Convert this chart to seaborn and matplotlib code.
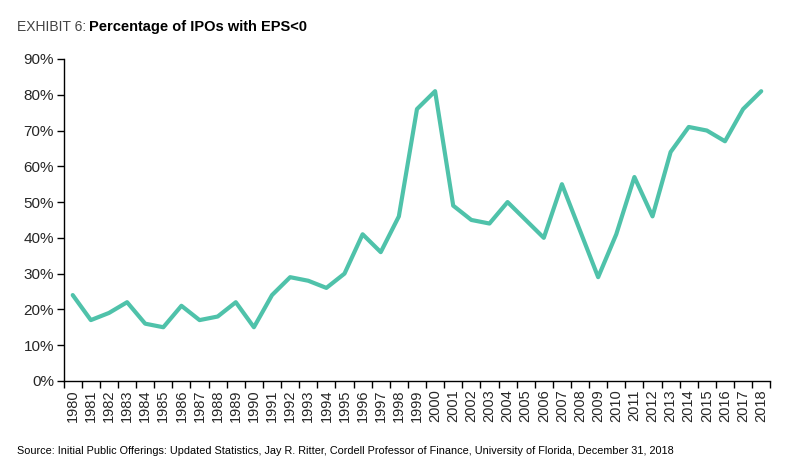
import numpy as np
import pandas as pd
import matplotlib.pyplot as plt
import matplotlib.ticker as mticker
import seaborn as sns

# số liệu
years = list(range(1980, 2019))
pct_neg_eps = [24, 17, 19, 22, 16, 15, 21, 17, 18, 22,
               15, 24, 29, 28, 26, 30, 41, 36, 46, 76,
               81, 49, 45, 44, 50, 45, 40, 55, 42, 29,
               41, 57, 46, 64, 71, 70, 67, 76, 81]

df = pd.DataFrame({'year': years, 'pct': pct_neg_eps})

sns.set_style('ticks')
plt.rcParams['font.family'] = ['Liberation Sans', 'DejaVu Sans']

fig = plt.figure(figsize=(7.86, 4.72), dpi=100)
ax = fig.add_axes([0.081, 0.193, 0.899, 0.682])

sns.lineplot(data=df, x='year', y='pct', color='#4fc2aa', linewidth=3, ax=ax)

ax.set_xlim(years[0] - 0.5, years[-1] + 0.5)
ax.set_ylim(0, 90)
ax.set_yticks(range(0, 91, 10))
ax.yaxis.set_major_formatter(mticker.FuncFormatter(lambda v, p: f'{int(v)}%'))

# vạch chia ở ranh giới giữa các năm, nhãn ở giữa
ax.set_xticks(np.arange(years[0] - 0.5, years[-1] + 1, 1))
ax.set_xticklabels([])
ax.set_xticks(years, minor=True)
ax.set_xticklabels([str(y) for y in years], minor=True, rotation=90)
ax.tick_params(axis='x', which='minor', length=0, labelsize=10.5, pad=6)
ax.tick_params(axis='x', which='major', length=5, width=1, color='black')
ax.tick_params(axis='y', length=5, width=1, color='black', labelsize=11, pad=2)

for s in ['top', 'right']:
    ax.spines[s].set_visible(False)
for s in ['left', 'bottom']:
    ax.spines[s].set_color('black')
    ax.spines[s].set_linewidth(1)

ax.set_xlabel('')
ax.set_ylabel('')

fig.text(0.022, 0.942, 'EXHIBIT 6:', fontsize=10, color='#444444', va='center')
fig.text(0.113, 0.942, 'Percentage of IPOs with EPS<0', fontsize=10.5, fontweight='bold',
         color='black', va='center')
fig.text(0.022, 0.045, 'Source: Initial Public Offerings: Updated Statistics, Jay R. Ritter, '
         'Cordell Professor of Finance, University of Florida, December 31, 2018',
         fontsize=7.8, color='black', va='center')

fig.savefig('out.png', dpi=100)
